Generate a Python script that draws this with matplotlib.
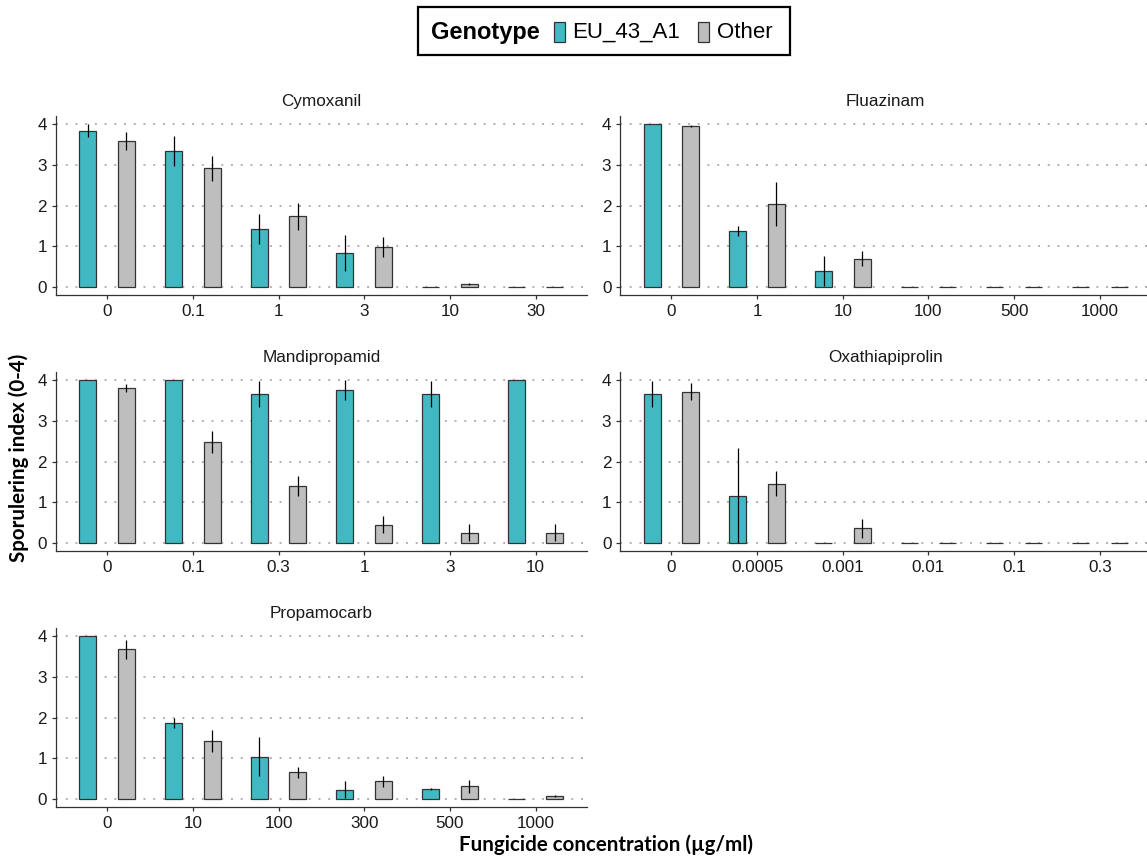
import matplotlib
matplotlib.use("Agg")
import matplotlib.pyplot as plt
from matplotlib.patches import Rectangle
import numpy as np

# Mean sporulation index (0-4) and error half-widths per fungicide and concentration
cymoxanil_conc = ["0", "0.1", "1", "3", "10", "30"]
cymoxanil_eu = [3.84, 3.34, 1.42, 0.83, 0.0, 0.0]
cymoxanil_eu_err = [0.16, 0.37, 0.36, 0.45, 0.0, 0.0]
cymoxanil_other = [3.58, 2.91, 1.73, 0.98, 0.07, 0.0]
cymoxanil_other_err = [0.22, 0.31, 0.32, 0.25, 0.03, 0.0]

fluazinam_conc = ["0", "1", "10", "100", "500", "1000"]
fluazinam_eu = [4.0, 1.37, 0.38, 0.0, 0.0, 0.0]
fluazinam_eu_err = [0.0, 0.13, 0.37, 0.0, 0.0, 0.0]
fluazinam_other = [3.96, 2.04, 0.69, 0.0, 0.0, 0.0]
fluazinam_other_err = [0.03, 0.54, 0.18, 0.0, 0.0, 0.0]

mandipropamid_conc = ["0", "0.1", "0.3", "1", "3", "10"]
mandipropamid_eu = [4.0, 4.0, 3.66, 3.75, 3.66, 4.0]
mandipropamid_eu_err = [0.0, 0.0, 0.33, 0.25, 0.33, 0.0]
mandipropamid_other = [3.80, 2.48, 1.39, 0.45, 0.25, 0.25]
mandipropamid_other_err = [0.10, 0.28, 0.25, 0.20, 0.21, 0.21]

oxathiapiprolin_conc = ["0", "0.0005", "0.001", "0.01", "0.1", "0.3"]
oxathiapiprolin_eu = [3.66, 1.16, 0.0, 0.0, 0.0, 0.0]
oxathiapiprolin_eu_err = [0.33, 1.16, 0.0, 0.0, 0.0, 0.0]
oxathiapiprolin_other = [3.72, 1.45, 0.36, 0.0, 0.0, 0.0]
oxathiapiprolin_other_err = [0.21, 0.31, 0.23, 0.0, 0.0, 0.0]

propamocarb_conc = ["0", "10", "100", "300", "500", "1000"]
propamocarb_eu = [4.0, 1.86, 1.04, 0.22, 0.24, 0.0]
propamocarb_eu_err = [0.0, 0.13, 0.47, 0.21, 0.03, 0.0]
propamocarb_other = [3.68, 1.42, 0.65, 0.43, 0.31, 0.07]
propamocarb_other_err = [0.23, 0.27, 0.14, 0.13, 0.16, 0.03]

genotypes = ["EU_43_A1", "Other"]
genotype_colors = ["#42B9C2", "#BEBEBE"]

panels = [
    ("Cymoxanil", cymoxanil_conc, cymoxanil_eu, cymoxanil_eu_err, cymoxanil_other, cymoxanil_other_err),
    ("Fluazinam", fluazinam_conc, fluazinam_eu, fluazinam_eu_err, fluazinam_other, fluazinam_other_err),
    ("Mandipropamid", mandipropamid_conc, mandipropamid_eu, mandipropamid_eu_err, mandipropamid_other, mandipropamid_other_err),
    ("Oxathiapiprolin", oxathiapiprolin_conc, oxathiapiprolin_eu, oxathiapiprolin_eu_err, oxathiapiprolin_other, oxathiapiprolin_other_err),
    ("Propamocarb", propamocarb_conc, propamocarb_eu, propamocarb_eu_err, propamocarb_other, propamocarb_other_err),
]

W, H = 1147, 859
plt.rcParams["font.family"] = ["Liberation Sans", "DejaVu Sans"]
fig = plt.figure(figsize=(W / 100, H / 100), dpi=100)


def fx(px):
    return px / W


def fy(py):
    return 1 - py / H


# panel boxes in pixels: (left, top); all share width/height
panel_w, panel_h = 531.3, 179.0
col_left = [55.7, 620.0]
row_top = [116.0, 372.0, 628.0]

ink = "#333333"
offset = 0.225
bar_w = 0.2

for i, (name, conc, eu, eu_err, oth, oth_err) in enumerate(panels):
    r, c = divmod(i, 2)
    left, top = col_left[c], row_top[r]
    ax = fig.add_axes([fx(left), fy(top + panel_h), panel_w / W, panel_h / H])
    x = np.arange(1, len(conc) + 1)
    for vals, errs, sign, col in ((eu, eu_err, -1, genotype_colors[0]),
                                  (oth, oth_err, 1, genotype_colors[1])):
        vals = np.asarray(vals)
        errs = np.asarray(errs)
        xs = x + sign * offset
        ax.bar(xs, vals, width=bar_w, color=col, edgecolor=ink, linewidth=0.9, zorder=3)
        m = errs > 0
        ax.vlines(xs[m], vals[m] - errs[m], vals[m] + errs[m], color="black",
                  linewidth=0.9, zorder=4)
    ax.set_xlim(0.4, len(conc) + 0.6)
    ax.set_ylim(-0.2, 4.2)
    ax.set_xticks(x)
    ax.set_xticklabels(conc)
    ax.set_yticks([0, 1, 2, 3, 4])
    ax.set_axisbelow(True)
    ax.yaxis.grid(True, linestyle=(0, (1, 4)), color="#b0b0b0", linewidth=1.4)
    for s in ("top", "right"):
        ax.spines[s].set_visible(False)
    for s in ("left", "bottom"):
        ax.spines[s].set_color(ink)
        ax.spines[s].set_linewidth(0.9)
    ax.tick_params(length=3.2, width=0.9, color=ink, labelsize=12.3,
                   labelcolor="#1a1a1a", pad=3)
    ax.set_title(name, fontsize=12.3, pad=7, color="#1a1a1a")

# axis titles shared by all panels
fig.text(fx(606), fy(845), "Fungicide concentration (\u00b5g/ml)", ha="center", va="center",
         fontsize=14.8, fontweight="bold", family=["Lato", "DejaVu Sans"])
fig.text(fx(19), fy(458), "Sporulering index (0-4)", ha="center", va="center",
         rotation=90, fontsize=14.8, fontweight="bold", family=["Lato", "DejaVu Sans"])

# legend drawn at the top centre
fig.add_artist(Rectangle((fx(418), fy(55)), 372 / W, 48 / H, transform=fig.transFigure,
                         fill=False, edgecolor="black", linewidth=1.6))
fig.text(fx(431), fy(32), "Genotype", ha="left", va="center", fontsize=17, fontweight="bold")
key_x = [554, 698]
label_x = [572, 717]
for kx, lx, lab, col in zip(key_x, label_x, genotypes, genotype_colors):
    fig.add_artist(Rectangle((fx(kx), fy(42)), 11 / W, 20 / H, transform=fig.transFigure,
                             facecolor=col, edgecolor=ink, linewidth=0.9))
    fig.text(fx(lx), fy(32), lab, ha="left", va="center", fontsize=16)

fig.savefig("out.png", dpi=100)
